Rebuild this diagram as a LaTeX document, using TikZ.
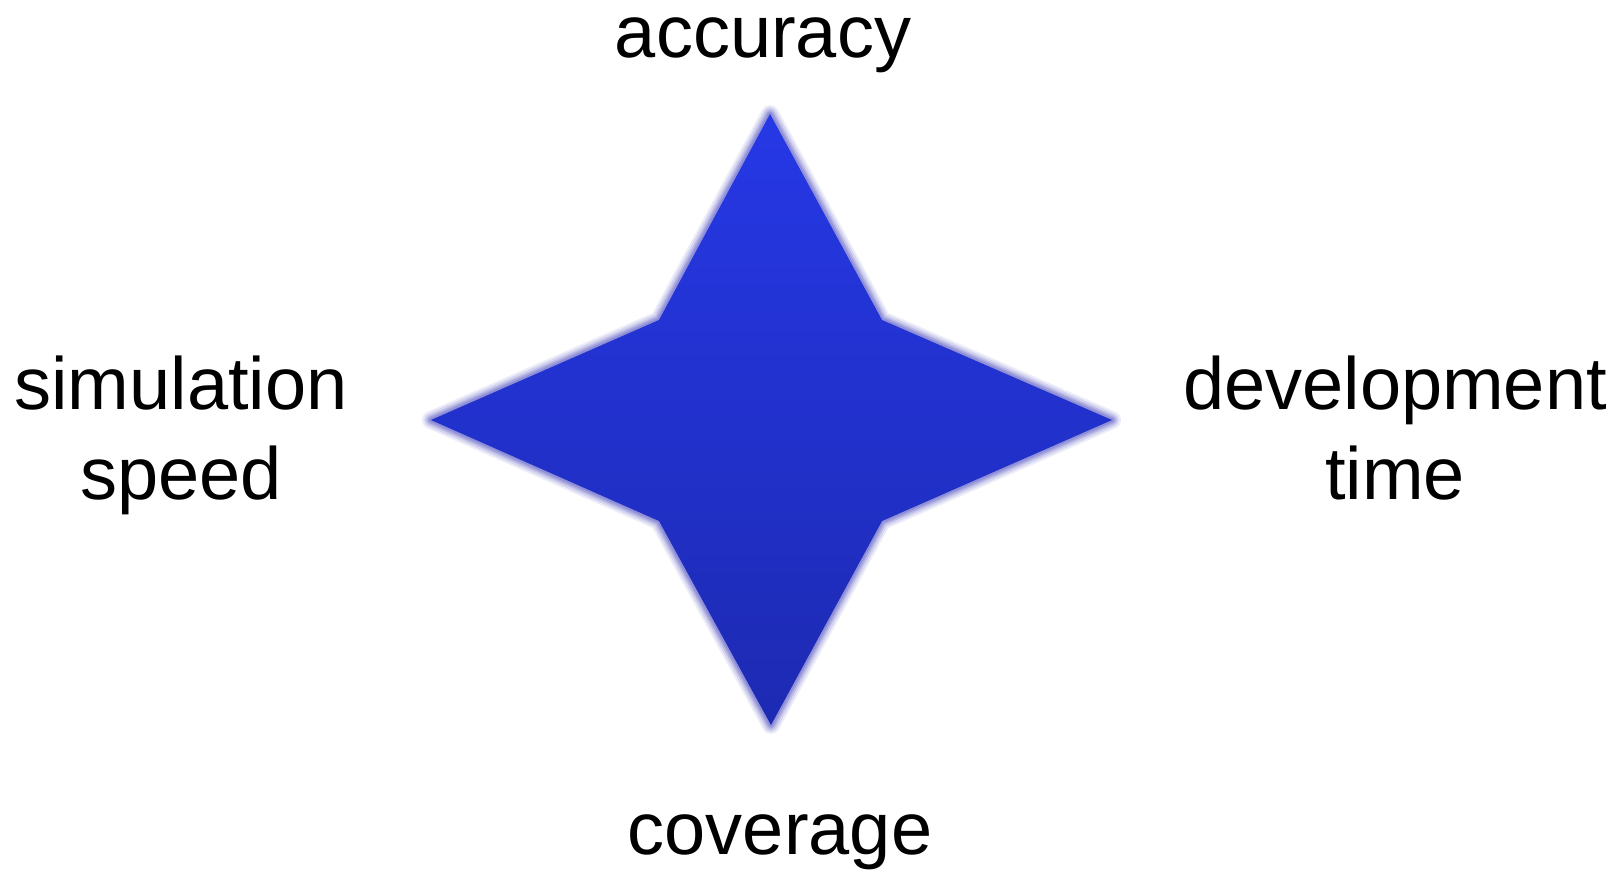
\documentclass[tikz,border=0pt]{standalone}
\usepackage{fontspec}
\setmainfont{Liberation Sans}
\definecolor{startop}{RGB}{38,56,230}
\definecolor{starbot}{RGB}{29,42,178}
\definecolor{glowc}{RGB}{130,130,210}
\tikzset{
  lbl/.style={anchor=base,inner sep=0pt,font=\fontsize{74}{90}\selectfont},
  glowline/.style={draw=glowc,line join=round,fill=none}
}
\begin{document}
\begin{tikzpicture}[x=1pt,y=-1pt]
\useasboundingbox (0,0) rectangle (1623,871);
% star vertices
\coordinate (T) at (770,114);
\coordinate (B) at (771,725);
\coordinate (L) at (431,420);
\coordinate (R) at (1112,420);
\coordinate (TL) at (659,320);
\coordinate (TR) at (882,320);
\coordinate (BL) at (659,521);
\coordinate (BR) at (882,521);
% glow
\foreach \w/\o in {18/0.15,14/0.22,10/0.3,7/0.42,4/0.6}{
  \draw[glowline,line width=\w pt,draw opacity=\o]
    (T) -- (TR) -- (R) -- (BR) -- (B) -- (BL) -- (L) -- (TL) -- cycle;
}
% star body
\shade[top color=startop,bottom color=starbot]
  (T) -- (TR) -- (R) -- (BR) -- (B) -- (BL) -- (L) -- (TL) -- cycle;
% labels
\node[lbl] (acc) at (763,57) {accuracy};
\node[lbl] (cov) at (780,854) {coverage};
\node[lbl] (sim1) at (181,409) {simulation};
\node[lbl] (sim2) at (181,499) {speed};
\node[lbl] (dev1) at (1395,409) {development};
\node[lbl] (dev2) at (1395,499) {time};
\end{tikzpicture}
\end{document}
